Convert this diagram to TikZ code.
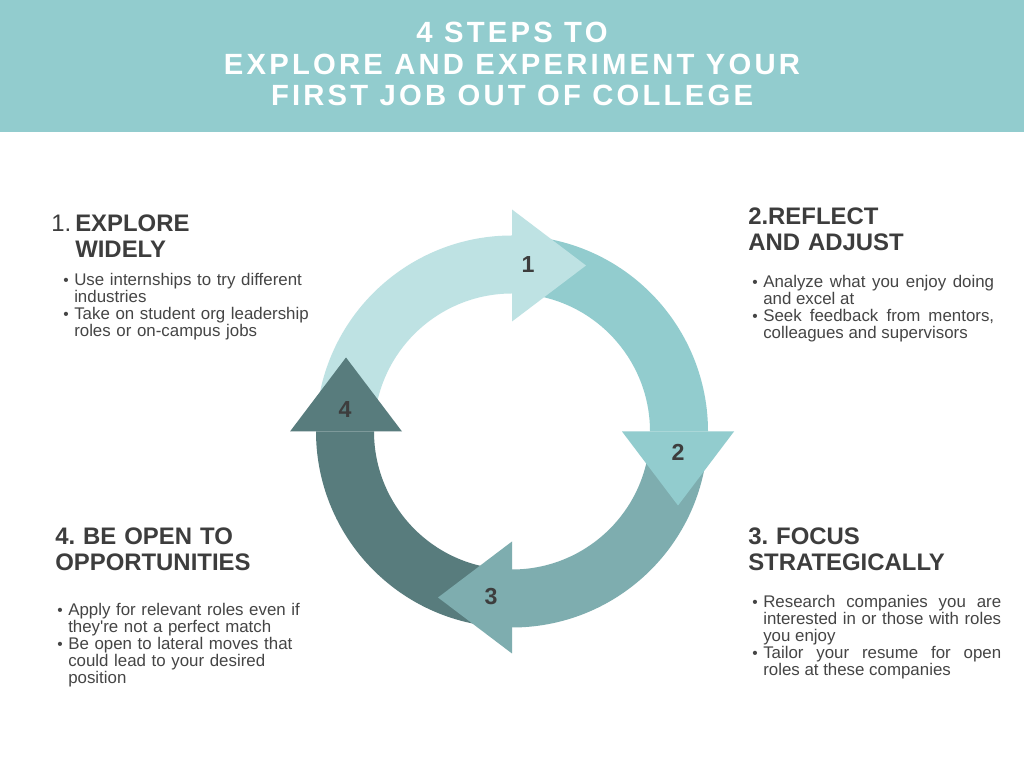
\documentclass[tikz,border=0pt]{standalone}
\usepackage{fontspec}
\setmainfont{Liberation Sans}
\usepackage{xcolor}
\definecolor{Header}{HTML}{92CCCE}
\definecolor{StepOne}{HTML}{BEE2E3}
\definecolor{StepTwo}{HTML}{92CCCE}
\definecolor{StepThree}{HTML}{7EADAF}
\definecolor{StepFour}{HTML}{587C7D}
\definecolor{Ink}{HTML}{3D3D3D}
\definecolor{Body}{HTML}{454545}
\usetikzlibrary{calc,positioning}
\frenchspacing
\newcommand{\stepitem}{\noindent\hangindent=7.8pt\hangafter=1%
  \makebox[7.8pt][l]{\raisebox{0.3pt}{\fontsize{11}{11}\selectfont\textbullet}}}
\tikzset{
  banner/.style={font=\fontsize{20.8}{22.3}\selectfont\bfseries\addfontfeature{LetterSpace=11},
    text=white,align=center,inner sep=0pt},
  stephead/.style={font=\fontsize{17}{18.4}\selectfont\bfseries,text=Ink,
    text width=180pt,align=left,inner sep=0pt,anchor=base west},
  stepbody/.style={font=\fontsize{12}{12}\selectfont,text=Body,
    inner sep=0pt,anchor=base west},
  stepnum/.style={font=\fontsize{16.5}{16.5}\selectfont\bfseries,text=Ink,inner sep=0pt}
}
\begin{document}
\begin{tikzpicture}[x=0.025cm,y=0.025cm]
  \useasboundingbox (0,0) rectangle (1024,768);
  \fill[white] (0,0) rectangle (1024,768);
  \fill[Header] (0,636) rectangle (1024,768);
  \node[banner] (title) at (512,704) {4 STEPS TO\\EXPLORE AND EXPERIMENT YOUR\\FIRST JOB OUT OF COLLEGE};

  % ring of four arrows
  \coordinate (hub) at (512,336.5);
  \fill[StepOne] ($(hub)+(170:196)$) arc[start angle=170,end angle=90,radius=196]
    -- ($(hub)+(90:138)$) arc[start angle=90,end angle=170,radius=138] -- cycle;
  \fill[StepTwo] ($(hub)+(80:196)$) arc[start angle=80,end angle=0,radius=196]
    -- ($(hub)+(0:138)$) arc[start angle=0,end angle=80,radius=138] -- cycle;
  \fill[StepThree] ($(hub)+(-10:196)$) arc[start angle=-10,end angle=-90,radius=196]
    -- ($(hub)+(-90:138)$) arc[start angle=-90,end angle=-10,radius=138] -- cycle;
  \fill[StepFour] ($(hub)+(260:196)$) arc[start angle=260,end angle=180,radius=196]
    -- ($(hub)+(180:138)$) arc[start angle=180,end angle=260,radius=138] -- cycle;
  \fill[StepOne] ($(hub)+(90:110)$) -- ($(hub)+(90:222)$) -- ($(hub)+(90:166)+(0:74)$) -- cycle;
  \fill[StepTwo] ($(hub)+(0:110)$) -- ($(hub)+(0:222)$) -- ($(hub)+(0:166)+(-90:74)$) -- cycle;
  \fill[StepThree] ($(hub)+(-90:110)$) -- ($(hub)+(-90:222)$) -- ($(hub)+(-90:166)+(180:74)$) -- cycle;
  \fill[StepFour] ($(hub)+(180:110)$) -- ($(hub)+(180:222)$) -- ($(hub)+(180:166)+(90:74)$) -- cycle;
  \node[stepnum] (n1) at (528,503) {1};
  \node[stepnum] (n2) at (678,316) {2};
  \node[stepnum] (n3) at (491,171) {3};
  \node[stepnum] (n4) at (345,358) {4};

  % step texts
  \node[stephead] (h1) at (75,536) {\llap{\mdseries 1.\,}EXPLORE\\WIDELY};
  \node[stepbody,text width=180pt,align=left] (b1) at (63,482) {%
    \stepitem Use internships to try different\newline industries\par
    \stepitem Take on student org leadership\newline roles or on-campus jobs\par};
  \node[stephead] (h2) at (748,543) {2.REFLECT\\AND ADJUST};
  \node[stepbody,text width=172pt,align=justify] (b2) at (752,480) {%
    \stepitem Analyze what you enjoy doing\linebreak and excel at\par
    \stepitem Seek feedback from mentors,\linebreak colleagues and supervisors\par};
  \node[stephead] (h3) at (748,223) {3. FOCUS\\STRATEGICALLY};
  \node[stepbody,text width=177pt,align=justify] (b3) at (752,160) {%
    \stepitem Research companies you are\linebreak interested in or those with roles\linebreak you enjoy\par
    \stepitem Tailor your resume for open\linebreak roles at these companies\par};
  \node[stephead] (h4) at (55,223) {4. BE OPEN TO\\OPPORTUNITIES};
  \node[stepbody,text width=180pt,align=left] (b4) at (57,152) {%
    \stepitem Apply for relevant roles even if\newline they\textquotesingle re not a perfect match\par
    \stepitem Be open to lateral moves that\newline could lead to your desired\newline position\par};
\end{tikzpicture}
\end{document}
